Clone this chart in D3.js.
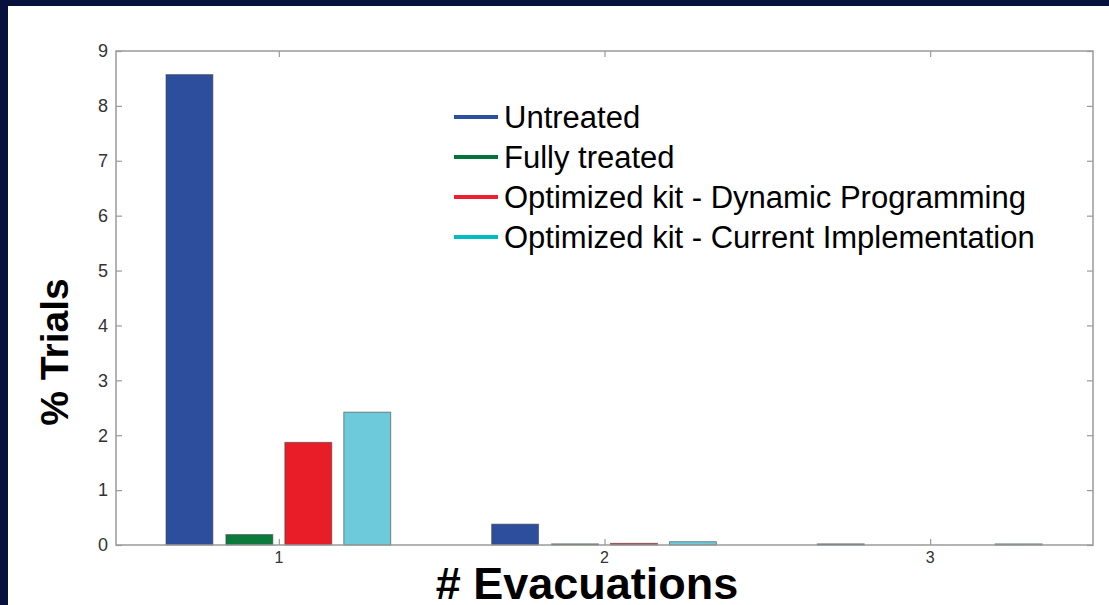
<!DOCTYPE html>
<html>
<head>
<meta charset="utf-8">
<script src="https://cdn.jsdelivr.net/npm/d3@7"></script>
<style>
html,body{margin:0;padding:0;background:#06123d;}
svg{display:block;}
</style>
</head>
<body>
<svg id="chart" width="1109" height="605"></svg>
<script>
const categories = [1, 2, 3];
const seriesNames = ["Untreated", "Fully treated", "Optimized kit - Dynamic Programming", "Optimized kit - Current Implementation"];
const untreated = [8.57, 0.38, 0.02];
const fullyTreated = [0.19, 0.02, 0.0];
const dynamicProgramming = [1.87, 0.03, 0.0];
const currentImplementation = [2.42, 0.06, 0.02];
const barColors = ["#2c4e9d", "#0b7a3c", "#e91d27", "#6ccadb"];
const legendColors = ["#2d4fa0", "#00733b", "#ee2030", "#00bcc4"];
const yTicks = [0, 1, 2, 3, 4, 5, 6, 7, 8, 9];

const series = [untreated, fullyTreated, dynamicProgramming, currentImplementation];
const FONT = "Liberation Sans, Arial, sans-serif";

const svg = d3.select("#chart");
svg.append("rect").attr("x", 0).attr("y", 0).attr("width", 1109).attr("height", 605).attr("fill", "#06123d");
svg.append("rect").attr("x", 8).attr("y", 6).attr("width", 1101).attr("height", 599).attr("fill", "#ffffff");

const L = 116, R = 1093, T = 51, B = 545;
const x = d3.scaleLinear().domain([0.5, 3.5]).range([L, R]);
const y = d3.scaleLinear().domain([0, 9]).range([B, T]);

const offsets = [-0.2745, -0.0905, 0.0905, 0.2715];
const barW = 0.144;

const g = svg.append("g");
series.forEach((vals, si) => {
  g.selectAll(null).data(vals.map((v, i) => ({v, c: categories[i]})))
    .enter().append("rect")
    .attr("x", d => x(d.c + offsets[si] - barW / 2))
    .attr("width", d => x(d.c + offsets[si] + barW / 2) - x(d.c + offsets[si] - barW / 2))
    .attr("y", d => y(d.v))
    .attr("height", d => y(0) - y(d.v))
    .attr("fill", barColors[si])
    .attr("stroke", "#444")
    .attr("stroke-opacity", 0.6)
    .attr("stroke-width", 1);
});

const axisColor = "#9a9a9a";
svg.append("rect").attr("x", L).attr("y", T).attr("width", R - L).attr("height", B - T)
  .attr("fill", "none").attr("stroke", axisColor).attr("stroke-width", 1.5);

const yAxisL = svg.append("g").attr("transform", `translate(${L},0)`)
  .call(d3.axisRight(y).tickValues(yTicks).tickSize(6).tickFormat(""));
const yAxisR = svg.append("g").attr("transform", `translate(${R},0)`)
  .call(d3.axisLeft(y).tickValues(yTicks).tickSize(6).tickFormat(""));
const xAxisB = svg.append("g").attr("transform", `translate(0,${B})`)
  .call(d3.axisTop(x).tickValues(categories).tickSize(6).tickFormat(""));
const xAxisT = svg.append("g").attr("transform", `translate(0,${T})`)
  .call(d3.axisBottom(x).tickValues(categories).tickSize(6).tickFormat(""));
[yAxisL, yAxisR, xAxisB, xAxisT].forEach(a => {
  a.select(".domain").remove();
  a.selectAll("line").attr("stroke", axisColor).attr("stroke-width", 1.2);
});

svg.append("g").selectAll("text").data(yTicks).enter().append("text")
  .attr("x", L - 8).attr("y", d => y(d)).attr("dy", "0.35em")
  .attr("text-anchor", "end")
  .style("font-family", FONT)
  .style("font-size", "18px").attr("fill", "#333")
  .text(d => d);
svg.append("g").selectAll("text").data(categories).enter().append("text")
  .attr("x", d => x(d)).attr("y", B + 18)
  .attr("text-anchor", "middle")
  .style("font-family", FONT)
  .style("font-size", "16px").attr("fill", "#333")
  .text(d => d);

svg.append("text").attr("transform", `translate(68,352) rotate(-90)`)
  .attr("text-anchor", "middle")
  .style("font-family", FONT)
  .style("font-weight", "bold").style("font-size", "39px").attr("fill", "#000")
  .text("% Trials");
svg.append("text").attr("x", 587).attr("y", 599)
  .attr("text-anchor", "middle")
  .style("font-family", FONT)
  .style("font-weight", "bold").style("font-size", "45px").attr("fill", "#000")
  .text("# Evacuations");

const legend = svg.append("g");
seriesNames.forEach((name, i) => {
  const ly = 117 + i * 40;
  legend.append("line").attr("x1", 454).attr("x2", 498).attr("y1", ly).attr("y2", ly)
    .attr("stroke", legendColors[i]).attr("stroke-width", 4);
  legend.append("text").attr("x", 504).attr("y", ly).attr("dy", "0.36em")
    .style("font-family", FONT)
    .style("font-size", "31px").attr("fill", "#000")
    .text(name);
});
</script>
</body>
</html>
